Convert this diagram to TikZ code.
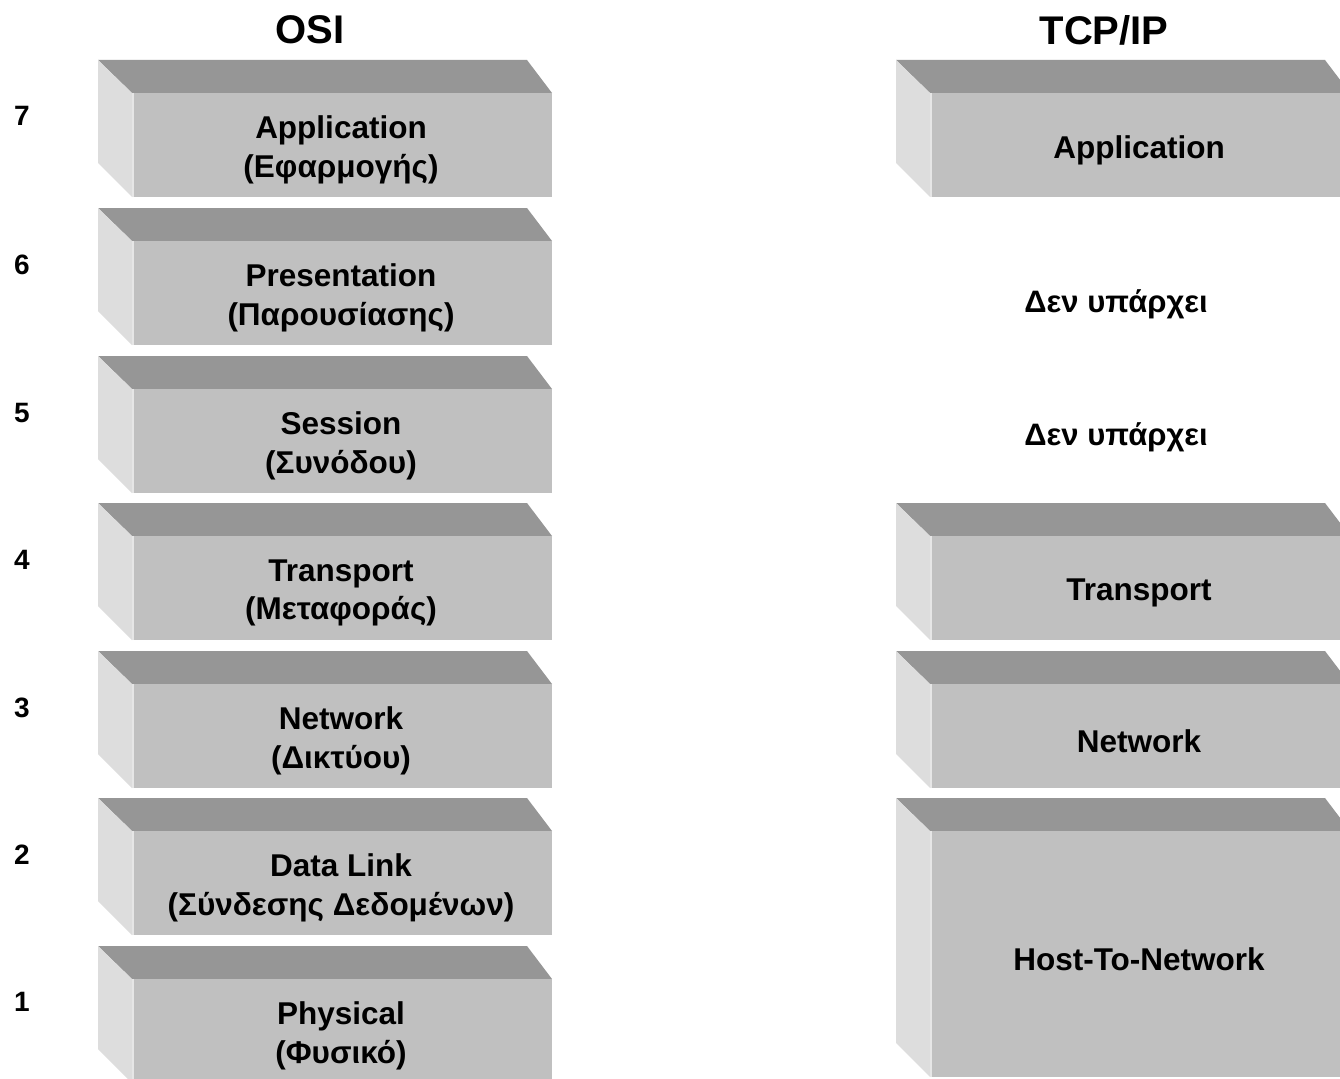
\documentclass[tikz,border=0pt]{standalone}
\usepackage{fontspec}
\setmainfont{Liberation Sans}
\definecolor{topc}{HTML}{969696}
\definecolor{frontc}{HTML}{C0C0C0}
\definecolor{leftc}{HTML}{DDDDDD}
\definecolor{edgec}{HTML}{E6E6E6}
\tikzset{
  frontface/.style={fill=frontc, inner sep=0pt, minimum width=420pt},
  layertext/.style={inner sep=0pt, align=center, text=black,
    font=\fontsize{31.5}{38.5}\selectfont\bfseries},
  titletext/.style={font=\fontsize{40}{48}\selectfont\bfseries, inner sep=0pt},
  numtext/.style={font=\fontsize{28}{32}\selectfont\bfseries, inner sep=0pt},
  nonetext/.style={font=\fontsize{31}{36}\selectfont\bfseries, inner sep=0pt}
}
\newcommand\layerbox[5]{%
  \fill[topc] (#2,#3) -- (#2+429,#3) -- (#2+454,#3+33) -- (#2+34,#3+33) -- cycle;
  \fill[leftc] (#2,#3) -- (#2+34,#3+33) -- (#2+34,#3+#4) -- (#2,#3+#4-34) -- cycle;
  \node[frontface, minimum height={#4pt-33pt}] (#1) at (#2+244,#3+33+#4/2-16.5) {};
  \draw[edgec, line width=1.5pt] (#2+34.75,#3+33) -- (#2+34.75,#3+#4);
  \node[layertext] (#1-text) at (#2+243,#3+33+#4/2-16.5+5) {#5};
}
\begin{document}
\begin{tikzpicture}[x=1pt,y=-1pt]
\useasboundingbox (0,0) rectangle (1340,1078);
\clip (0,0) rectangle (1340,1078);
\fill[white] (0,0) rectangle (1340,1078);
% titles
\node[titletext] (osi) at (310,30) {OSI};
\node[titletext] (tcp) at (1104,30) {TCP/IP};
% OSI layers
\layerbox{l7}{98}{60}{137}{Application\\(Εφαρμογής)}
\layerbox{l6}{98}{208}{137}{Presentation\\(Παρουσίασης)}
\layerbox{l5}{98}{356}{137}{Session\\(Συνόδου)}
\layerbox{l4}{98}{503}{137}{Transport\\(Μεταφοράς)}
\layerbox{l3}{98}{651}{137}{Network\\(Δικτύου)}
\layerbox{l2}{98}{798}{137}{Data Link\\(Σύνδεσης Δεδομένων)}
\layerbox{l1}{98}{946}{137}{Physical\\(Φυσικό)}
% numbers
\node[numtext] (n7) at (22,116) {7};
\node[numtext] (n6) at (22,265) {6};
\node[numtext] (n5) at (22,413) {5};
\node[numtext] (n4) at (22,560) {4};
\node[numtext] (n3) at (22,708) {3};
\node[numtext] (n2) at (22,855) {2};
\node[numtext] (n1) at (22,1002) {1};
% TCP/IP layers
\layerbox{t4}{896}{60}{137}{Application}
\node[nonetext] (t6) at (1116,304) {Δεν υπάρχει};
\node[nonetext] (t5) at (1116,437) {Δεν υπάρχει};
\layerbox{t3}{896}{503}{137}{Transport}
\layerbox{t2}{896}{651}{137}{Network}
\layerbox{t1}{896}{798}{279}{Host-To-Network}
\end{tikzpicture}
\end{document}
